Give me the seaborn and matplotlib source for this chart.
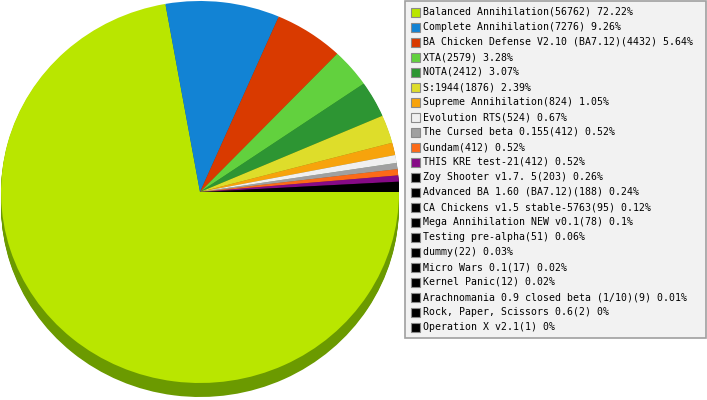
import matplotlib
matplotlib.use("Agg")
import matplotlib.pyplot as plt
from matplotlib.patches import Rectangle
import matplotlib.colors as mcolors
import seaborn as sns

sns.set_theme(style="white")
plt.rcParams['font.family'] = ['DejaVu Sans Mono', 'DejaVu Sans']

names = ["Balanced Annihilation", "Complete Annihilation", "BA Chicken Defense V2.10 (BA7.12)",
         "XTA", "NOTA", "S:1944", "Supreme Annihilation", "Evolution RTS", "The Cursed beta 0.155",
         "Gundam", "THIS KRE test-21", "Zoy Shooter v1.7. 5", "Advanced BA 1.60 (BA7.12)",
         "CA Chickens v1.5 stable-5763", "Mega Annihilation NEW v0.1", "Testing pre-alpha",
         "dummy", "Micro Wars 0.1", "Kernel Panic", "Arachnomania 0.9 closed beta (1/10)",
         "Rock, Paper, Scissors 0.6", "Operation X v2.1"]
counts = [56762, 7276, 4432, 2579, 2412, 1876, 824, 524, 412, 412, 412, 203, 188, 95, 78,
          51, 22, 17, 12, 9, 2, 1]
percents = ["72.22%", "9.26%", "5.64%", "3.28%", "3.07%", "2.39%", "1.05%", "0.67%", "0.52%",
            "0.52%", "0.52%", "0.26%", "0.24%", "0.12%", "0.1%", "0.06%", "0.03%", "0.02%",
            "0.02%", "0.01%", "0%", "0%"]
colors = ["#b9e600", "#1283d4", "#d93a00", "#62d13e", "#2d9533", "#dedd2a", "#f7a30c",
          "#f0f0f0", "#a0a0a0", "#fc6a18", "#860a86"] + ["#000000"] * 11

W, H = 707, 400
fig = plt.figure(figsize=(W / 100, H / 100), dpi=100)
fig.patch.set_facecolor("white")

# pie axes: map unit circle to an ellipse centred at (200,192) px with radii 199 x 191
cx, cy, rx, ry = 200.0, 192.0, 199.0, 191.0
ax = fig.add_axes([0, 0, 1, 1])
depth = 14
dark = []
for c in colors:
    r, g, b = mcolors.to_rgb(c)
    dark.append((r * 0.58, g * 0.67, b * 0.58))
for d in range(depth, 0, -1):
    ax.pie(counts, colors=dark, startangle=0, counterclock=False,
           center=(0, -d / ry), radius=1.0, wedgeprops=dict(linewidth=0))
ax.pie(counts, colors=colors, startangle=0, counterclock=False,
       center=(0, 0), radius=1.0, wedgeprops=dict(linewidth=0))
ax.set_aspect('auto')
ax.set_xlim(-cx / rx, (W - cx) / rx)
ax.set_ylim((cy - H) / ry, cy / ry)
ax.axis('off')

# legend drawn in pixel coordinates
lax = fig.add_axes([0, 0, 1, 1], facecolor='none')
lax.set_xlim(0, W)
lax.set_ylim(H, 0)
lax.axis('off')
lax.add_patch(Rectangle((404.5, 0.5), 301, 337.5, facecolor="#f2f2f2", edgecolor="#a0a0a0",
                        linewidth=1.2))
for i, (n, c, p, col) in enumerate(zip(names, counts, percents, colors)):
    y = 12 + 15 * i
    lax.add_patch(Rectangle((410.5, y - 4.5), 9, 9, facecolor=col, edgecolor="#8a8a8a",
                            linewidth=0.8))
    lax.text(423, y, f"{n}({c}) {p}", fontsize=7.15, color="black", va="center", ha="left")

fig.savefig("out.png", dpi=100)
